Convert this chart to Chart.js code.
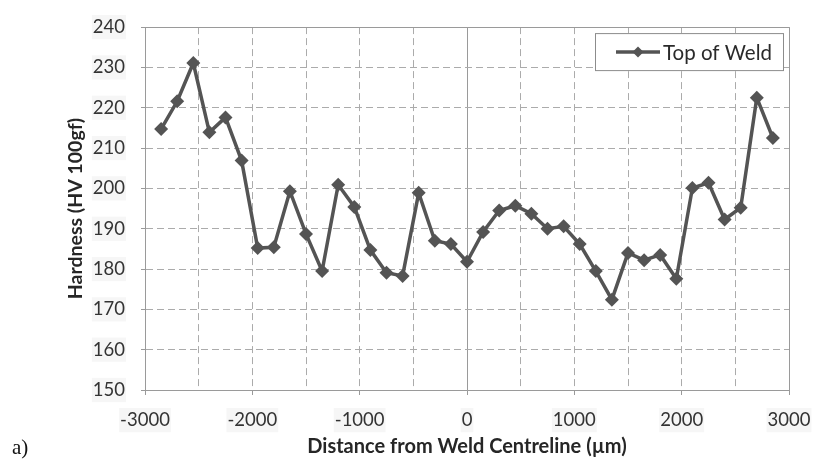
<!DOCTYPE html>
<html>
<head>
<meta charset="utf-8">
<title>Hardness profile across the weld</title>
<script src="https://cdn.jsdelivr.net/npm/chart.js@4/dist/chart.umd.min.js"></script>
<style>
  html, body { margin: 0; padding: 0; background: #ffffff; }
  #wrap { position: relative; width: 818px; height: 461px; }
  #panel { position: absolute; left: 12px; top: 435px; font: 21px "Liberation Serif", "DejaVu Serif", serif; color: #111; }
</style>
</head>
<body>
<div id="wrap">
  <canvas id="chart" width="818" height="461"></canvas>
  <div id="panel">a)</div>
</div>
<script>
// Indent positions across the weld (µm) and measured hardness (HV 100gf)
const distances = [-2850, -2700, -2550, -2400, -2250, -2100, -1950, -1800, -1650, -1500,
                   -1350, -1200, -1050, -900, -750, -600, -450, -300, -150, 0,
                   150, 300, 450, 600, 750, 900, 1050, 1200, 1350, 1500,
                   1650, 1800, 1950, 2100, 2250, 2400, 2550, 2700, 2850];
const hardness = [214.7, 221.6, 231.1, 213.9, 217.6, 206.9, 185.2, 185.4, 199.3, 188.7,
                  179.5, 200.9, 195.4, 184.7, 179.1, 178.3, 198.9, 187.0, 186.2, 181.8,
                  189.2, 194.5, 195.7, 193.7, 190.0, 190.6, 186.2, 179.5, 172.4, 184.0,
                  182.2, 183.5, 177.6, 200.1, 201.4, 192.3, 195.2, 222.5, 212.5];
const seriesName = 'Top of Weld';
const xLabelTicks = [-3000, -2000, -1000, 0, 1000, 2000, 3000];
const yTicks = [150, 160, 170, 180, 190, 200, 210, 220, 230, 240];

const lineColor = '#545454';
const gridColor = '#ababab';
const frameColor = '#9a9a9a';
const labelBack = '#f6f6f6';
const labelFont = { family: 'Lato, "Open Sans", sans-serif', size: 18.5 };
const titleFont = { family: 'Lato, "Open Sans", sans-serif', size: 20, weight: 'bold' };

// Boxed legend inside the top-right corner of the plot area
const boxedLegend = {
  id: 'boxedLegend',
  afterDraw(chart) {
    const { ctx, chartArea } = chart;
    const ds = chart.data.datasets[0];
    const w = 189, h = 38;
    const left = chartArea.right - 5 - w;
    const top = chartArea.top + 6;
    ctx.save();
    ctx.fillStyle = '#ffffff';
    ctx.fillRect(left, top, w, h);
    ctx.strokeStyle = '#8c8c8c';
    ctx.lineWidth = 1;
    ctx.strokeRect(left + 0.5, top + 0.5, w - 1, h - 1);
    const cy = top + h / 2;
    ctx.strokeStyle = ds.borderColor;
    ctx.lineWidth = ds.borderWidth;
    ctx.beginPath();
    ctx.moveTo(left + 21, cy);
    ctx.lineTo(left + 65, cy);
    ctx.stroke();
    ctx.fillStyle = ds.pointBackgroundColor;
    ctx.beginPath();
    ctx.moveTo(left + 43, cy - 5.5);
    ctx.lineTo(left + 48.5, cy);
    ctx.lineTo(left + 43, cy + 5.5);
    ctx.lineTo(left + 37.5, cy);
    ctx.closePath();
    ctx.fill();
    ctx.fillStyle = '#2a2a2a';
    ctx.font = '20.5px Lato, "Open Sans", sans-serif';
    ctx.textBaseline = 'middle';
    ctx.textAlign = 'left';
    ctx.fillText(ds.label, left + 68, cy + 1);
    ctx.restore();
  }
};

const isFrameX = v => v === -3000 || v === 0 || v === 3000;
const isFrameY = v => v === 150 || v === 240;

new Chart(document.getElementById('chart'), {
  type: 'line',
  data: {
    datasets: [{
      label: seriesName,
      data: distances.map((d, i) => ({ x: d, y: hardness[i] })),
      borderColor: lineColor,
      backgroundColor: lineColor,
      borderWidth: 3.5,
      pointStyle: 'rectRot',
      pointRadius: 7,
      pointBackgroundColor: lineColor,
      pointBorderColor: lineColor,
      pointBorderWidth: 0,
      tension: 0
    }]
  },
  options: {
    responsive: false,
    devicePixelRatio: 1,
    animation: false,
    layout: { padding: { top: 16, right: 29, bottom: 0, left: 0 } },
    plugins: { legend: { display: false }, tooltip: { enabled: false } },
    scales: {
      x: {
        type: 'linear',
        min: -3000,
        max: 3000,
        afterFit(scale) {
          scale.height = 71;
          scale.paddingLeft = 0;
          scale.paddingRight = 0;
        },
        ticks: {
          stepSize: 500,
          autoSkip: false,
          maxRotation: 0,
          padding: 14,
          color: '#333333',
          font: labelFont,
          showLabelBackdrop: true,
          backdropColor: ctx => (ctx.tick && xLabelTicks.includes(ctx.tick.value)) ? labelBack : 'rgba(0,0,0,0)',
          backdropPadding: 1,
          callback: v => xLabelTicks.includes(v) ? String(v) : ''
        },
        grid: {
          color: ctx => (ctx.tick && isFrameX(ctx.tick.value)) ? frameColor : gridColor,
          lineWidth: 1,
          tickLength: 5,
          tickColor: ctx => (ctx.tick && xLabelTicks.includes(ctx.tick.value)) ? frameColor : 'rgba(0,0,0,0)'
        },
        border: {
          color: frameColor,
          width: 1,
          dash: ctx => (ctx.type === 'tick' && !isFrameX(ctx.tick.value)) ? [7, 4] : []
        },
        title: {
          display: true,
          text: 'Distance from Weld Centreline (µm)',
          color: '#262626',
          font: titleFont,
          padding: { top: 0, bottom: 2 }
        }
      },
      y: {
        min: 150,
        max: 240,
        afterFit(scale) { scale.width = 145; },
        afterBuildTicks(scale) { scale.ticks = yTicks.map(v => ({ value: v })); },
        ticks: {
          padding: 16,
          color: '#333333',
          font: labelFont,
          showLabelBackdrop: true,
          backdropColor: labelBack,
          backdropPadding: 1
        },
        grid: {
          color: ctx => (ctx.tick && isFrameY(ctx.tick.value)) ? frameColor : gridColor,
          lineWidth: 1,
          tickLength: 4,
          tickColor: frameColor
        },
        border: {
          color: frameColor,
          width: 1,
          dash: ctx => (ctx.type === 'tick' && !isFrameY(ctx.tick.value)) ? [7, 4] : []
        },
        title: {
          display: true,
          text: 'Hardness (HV 100gf)',
          color: '#262626',
          font: { family: 'Lato, "Open Sans", sans-serif', size: 19.5, weight: 'bold' },
          padding: { top: 64, bottom: 0 }
        }
      }
    }
  },
  plugins: [boxedLegend]
});
</script>
</body>
</html>
